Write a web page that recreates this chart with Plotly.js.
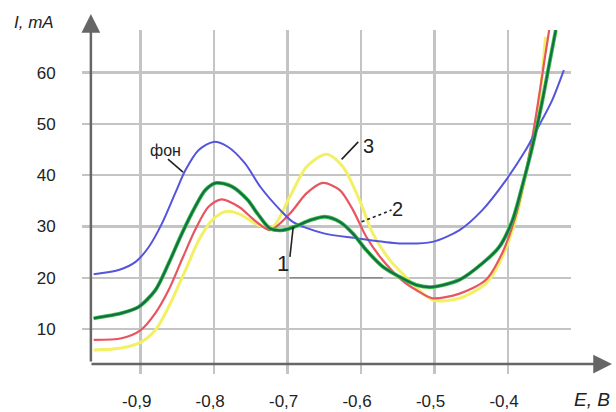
<!DOCTYPE html>
<html>
<head>
<meta charset="utf-8">
<script src="https://cdn.plot.ly/plotly-3.0.1.min.js"></script>
<style>html,body{margin:0;padding:0;background:#fff;}#chart{width:616px;height:412px;}</style>
</head>
<body>
<div id="chart"></div>
<script>
// ---- data ----
const xTickVals = [-0.9, -0.8, -0.7, -0.6, -0.5, -0.4];
const xTickText = ["-0,9", "-0,8", "-0,7", "-0,6", "-0,5", "-0,4"];
const yTickVals = [10, 20, 30, 40, 50, 60];
const yTickText = ["10", "20", "30", "40", "50", "60"];

const fonX = [-0.964, -0.930, -0.907, -0.889, -0.871, -0.853, -0.839, -0.821, -0.801, -0.781, -0.758, -0.737, -0.710, -0.693, -0.652, -0.606, -0.548, -0.503, -0.466, -0.435, -0.403, -0.376, -0.354, -0.340, -0.324];
const fonY = [20.7, 21.5, 23.1, 26.0, 30.6, 36.5, 41.0, 44.9, 46.5, 45.5, 42.3, 37.7, 33.2, 30.9, 28.7, 27.7, 26.7, 27.0, 29.3, 33.2, 39.0, 44.9, 50.7, 54.6, 60.5];

const redX = [-0.964, -0.926, -0.900, -0.880, -0.862, -0.844, -0.826, -0.808, -0.790, -0.766, -0.745, -0.724, -0.697, -0.674, -0.652, -0.629, -0.611, -0.593, -0.571, -0.545, -0.525, -0.503, -0.466, -0.430, -0.408, -0.390, -0.376, -0.363, -0.349, -0.344];
const redY = [7.9, 8.2, 9.8, 13.1, 17.6, 23.5, 29.3, 33.8, 35.3, 33.8, 31.2, 29.3, 32.5, 36.5, 38.5, 37.1, 33.2, 28.0, 23.5, 19.6, 17.6, 16.0, 16.9, 19.6, 24.8, 31.9, 40.4, 50.7, 63.7, 68.3];

const yelX = [-0.964, -0.926, -0.899, -0.880, -0.862, -0.839, -0.821, -0.803, -0.785, -0.767, -0.740, -0.720, -0.697, -0.674, -0.647, -0.625, -0.602, -0.584, -0.561, -0.539, -0.503, -0.466, -0.430, -0.412, -0.390, -0.372, -0.358, -0.349];
const yelY = [5.9, 6.3, 7.5, 9.8, 14.3, 21.5, 27.3, 31.2, 32.9, 32.5, 30.3, 30.0, 35.8, 41.7, 44.1, 41.7, 35.1, 28.6, 23.5, 20.2, 15.7, 16.0, 18.9, 22.8, 31.2, 42.9, 54.0, 67.0];

const grnX = [-0.964, -0.926, -0.903, -0.880, -0.862, -0.844, -0.826, -0.812, -0.797, -0.776, -0.754, -0.741, -0.724, -0.706, -0.688, -0.670, -0.649, -0.629, -0.611, -0.593, -0.570, -0.548, -0.525, -0.503, -0.466, -0.435, -0.412, -0.394, -0.381, -0.367, -0.354, -0.342, -0.335];
const grnY = [12.1, 13.1, 14.3, 17.6, 22.8, 28.6, 33.8, 37.1, 38.5, 37.8, 35.1, 32.5, 29.6, 29.3, 30.1, 31.2, 31.9, 30.9, 28.6, 25.4, 22.1, 20.2, 18.6, 18.2, 19.6, 22.8, 26.0, 31.2, 37.7, 45.5, 54.0, 63.1, 68.3];

const curveLabels = ["фон", "1", "2", "3"];
const labelX = [-0.8669, -0.7064, -0.5500, -0.5894];
const labelY = [44.89, 22.87, 33.39, 45.67];
const labelSize = [16, 22, 20, 20];
// leader lines: [x0, y0, x1, y1, dash]
const leaders = [
  [-0.8629, 43.14, -0.8424, 40.60, "solid"],
  [-0.6969, 24.09, -0.6924, 29.94, "solid"],
  [-0.5993, 30.92, -0.5585, 33.20, "dot"],
  [-0.6265, 43.08, -0.6039, 46.51, "solid"]
];

function sp(x, y, color, width) {
  return {x: x, y: y, type: 'scatter', mode: 'lines', hoverinfo: 'skip',
          line: {color: color, width: width, shape: 'spline', smoothing: 0.8}};
}

const traces = [
  sp(yelX, yelY, 'rgb(242,240,100)', 3),
  sp(redX, redY, 'rgb(232,84,96)', 2.2),
  sp(fonX, fonY, 'rgb(84,84,222)', 2),
  sp(grnX, grnY, 'rgb(50,196,60)', 3.8),
  sp(grnX, grnY, 'rgb(24,108,76)', 2.2)
];

const annotations = [];
for (let i = 0; i < curveLabels.length; i++) {
  annotations.push({x: labelX[i], y: labelY[i], xref: 'x', yref: 'y', text: curveLabels[i],
    showarrow: false, xanchor: 'center', yanchor: 'middle',
    font: {size: labelSize[i], color: '#222', family: 'Liberation Sans, Arial, sans-serif'}});
}
// axis arrows
annotations.push({x: -0.9678, y: 1.0466, xref: 'x', yref: 'paper', ax: 0, ay: 349, text: '',
  showarrow: true, arrowhead: 2, arrowsize: 1.5, arrowwidth: 2.5, arrowcolor: '#666'});
annotations.push({x: 1.0838, y: 3.18, xref: 'paper', yref: 'y', ax: -522, ay: 0, text: '',
  showarrow: true, arrowhead: 2, arrowsize: 1.5, arrowwidth: 2.5, arrowcolor: '#666'});
// axis titles (paper coords relative to the plot area)
annotations.push({x: (34 - 82) / 489, y: (374 - 23) / 344, xref: 'paper', yref: 'paper', text: '<i>I, mA</i>',
  showarrow: false, xanchor: 'center', yanchor: 'middle', font: {size: 17, color: '#222'}});
annotations.push({x: (592 - 82) / 489, y: (374 - 400) / 344, xref: 'paper', yref: 'paper', text: '<i>E, B</i>',
  showarrow: false, xanchor: 'center', yanchor: 'middle', font: {size: 19, color: '#222'}});

const shapes = leaders.map(l => ({type: 'line', xref: 'x', yref: 'y', x0: l[0], y0: l[1], x1: l[2], y1: l[3],
  line: {color: '#222', width: 1.6, dash: l[4]}}));
shapes.push({type: 'line', xref: 'x', yref: 'y', x0: -0.6969, y0: 20, x1: -0.5703, y1: 20,
  line: {color: '#8a8a8a', width: 1.5}});

const layout = {
  width: 616, height: 412,
  margin: {l: 82, r: 45, t: 30, b: 38, pad: 0},
  paper_bgcolor: '#fff', plot_bgcolor: '#fff',
  showlegend: false,
  font: {family: 'Liberation Sans, Arial, sans-serif', color: '#222', size: 17},
  xaxis: {range: [-0.9799, -0.3143], tickvals: xTickVals, ticktext: xTickText,
    showgrid: true, gridcolor: '#c4c4c4', gridwidth: 2.5, zeroline: false, showline: false,
    ticks: 'outside', ticklen: 12, tickcolor: 'rgba(0,0,0,0)', ticklabelshift: -4,
    tickfont: {size: 17, color: '#222'}},
  yaxis: {range: [1.23, 68.32], tickvals: yTickVals, ticktext: yTickText,
    showgrid: true, gridcolor: '#c4c4c4', gridwidth: 2.5, zeroline: false, showline: false,
    ticks: 'outside', ticklen: 22, tickcolor: 'rgba(0,0,0,0)',
    tickfont: {size: 17, color: '#222'}},
  annotations: annotations,
  shapes: shapes
};

Plotly.newPlot('chart', traces, layout, {displayModeBar: false, staticPlot: true});
</script>
</body>
</html>
